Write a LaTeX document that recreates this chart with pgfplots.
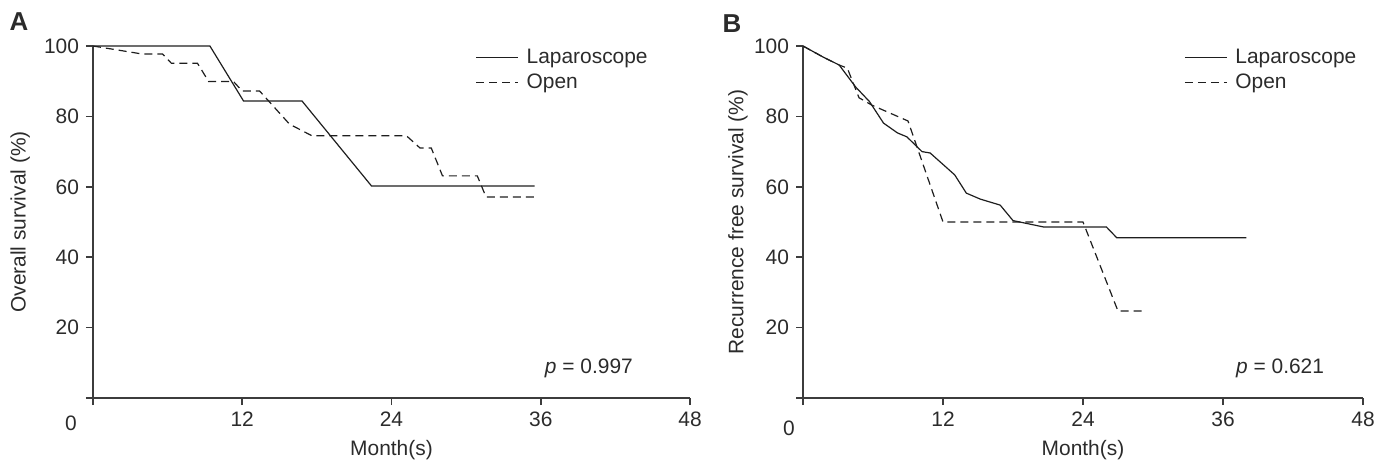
\documentclass[border=0pt]{standalone}
\usepackage{fontspec}
\setmainfont{Liberation Sans}
\usepackage{pgfplots}
\pgfplotsset{compat=1.18}
\definecolor{axisgray}{HTML}{3C3C3C}
\definecolor{txtgray}{HTML}{2B2B2B}
\definecolor{curve}{HTML}{1E1E1E}

\newcommand{\lblfont}{\fontsize{10.5}{12.6}\selectfont}

\pgfplotsset{
  kmstyle/.style={
    scale only axis,
    height=176bp,
    xmin=0, xmax=48, ymin=0, ymax=100,
    axis x line=bottom, axis y line=left,
    axis line style={-, axisgray, line width=0.75bp},
    tick align=outside, major tick length=3.5bp,
    tick style={axisgray, line width=0.75bp},
    xtick={0,12,24,36,48}, xticklabels={,12,24,36,48},
    ytick={0,20,40,60,80,100}, yticklabels={,20,40,60,80,100},
    /pgf/number format/assume math mode=true,
    tick label style={font=\lblfont, text=txtgray},
    label style={font=\lblfont, text=txtgray},
    xlabel={Month(s)},
    xlabel style={at={(axis description cs:0.5,0)}, anchor=center, yshift=-26bp},
    clip=false,
    legend style={draw=none, fill=none, anchor=north west, font=\lblfont,
      text=txtgray, inner sep=0pt, row sep=0bp},
    legend cell align=left,
    legend image code/.code={\draw[##1] (0bp,0bp) -- (21bp,0bp); \path (23bp,0bp);},
  },
  solidkm/.style={curve, line width=0.6bp, solid},
  dashkm/.style={curve, line width=0.6bp, dash pattern=on 4bp off 2.5bp},
}

\begin{document}
\begin{tikzpicture}
\path[use as bounding box] (-46.5bp,-33.5bp) rectangle (641bp,199bp);

% Panel A: overall survival
\begin{axis}[kmstyle, width=298.5bp,
  ylabel={Overall survival (\%)},
  ylabel style={at={(axis description cs:-0.122,0.5)}, anchor=center},
  legend style={at={(axis description cs:0.64,1.005)}},
]
\addplot[solidkm] coordinates {(0,100) (9.4,100) (12.1,84.4) (16.8,84.4) (22.4,60.2) (35.5,60.2)};
\addplot[dashkm] coordinates {(0,100) (4.0,97.7) (5.6,97.7) (6.3,95.1) (8.4,95.1) (9.3,89.9) (11.3,89.9) (12.0,87.2) (13.4,87.2) (15.8,77.8) (17.6,74.5) (25.2,74.5) (26.3,71.0) (27.2,71.0) (28.1,63.1) (30.9,63.1) (31.6,57.1) (35.7,57.1)};
\legend{Laparoscope, Open}
\node[font=\lblfont, text=txtgray] at (rel axis cs:0,0) [xshift=-11bp, yshift=-12.5bp] {0};
\node[font=\lblfont, text=txtgray, anchor=east] at (rel axis cs:0.916,0.085) {\textit{p} = 0.997};
\node[font=\bfseries\fontsize{13}{15}\selectfont, text=txtgray] at (rel axis cs:0,0) [xshift=-37bp, yshift=188bp] {A};
\end{axis}

% Panel B: recurrence free survival
\begin{axis}[kmstyle, width=280bp, at={(355bp,0bp)},
  ylabel={Recurrence free survival (\%)},
  ylabel style={at={(axis description cs:-0.116,0.5)}, anchor=center},
  legend style={at={(axis description cs:0.68,1.005)}},
]
\addplot[solidkm] coordinates {(0,100) (1.7,96.9) (3.1,94.6) (4.5,88.4) (5.7,84.2) (6.9,78.1) (8.1,75.3) (8.9,74.2) (10.2,70.0) (10.9,69.6) (13.0,63.4) (14.0,58.2) (15.2,56.5) (16.9,54.8) (18.0,50.4) (20.6,48.6) (26.0,48.6) (26.9,45.5) (38.0,45.5)};
\addplot[dashkm] coordinates {(0,100) (1.7,96.9) (3.1,94.6) (3.8,93.7) (4.8,85.3) (5.9,83.2) (9.0,78.7) (12.0,50.0) (24.0,50.0) (27.0,24.7) (29.4,24.7)};
\legend{Laparoscope, Open}
\node[font=\lblfont, text=txtgray] at (rel axis cs:0,0) [xshift=-7bp, yshift=-15bp] {0};
\node[font=\lblfont, text=txtgray, anchor=east] at (rel axis cs:0.943,0.085) {\textit{p} = 0.621};
\node[font=\bfseries\fontsize{13}{15}\selectfont, text=txtgray] at (rel axis cs:0,0) [xshift=-35.5bp, yshift=187bp] {B};
\end{axis}
\end{tikzpicture}
\end{document}
